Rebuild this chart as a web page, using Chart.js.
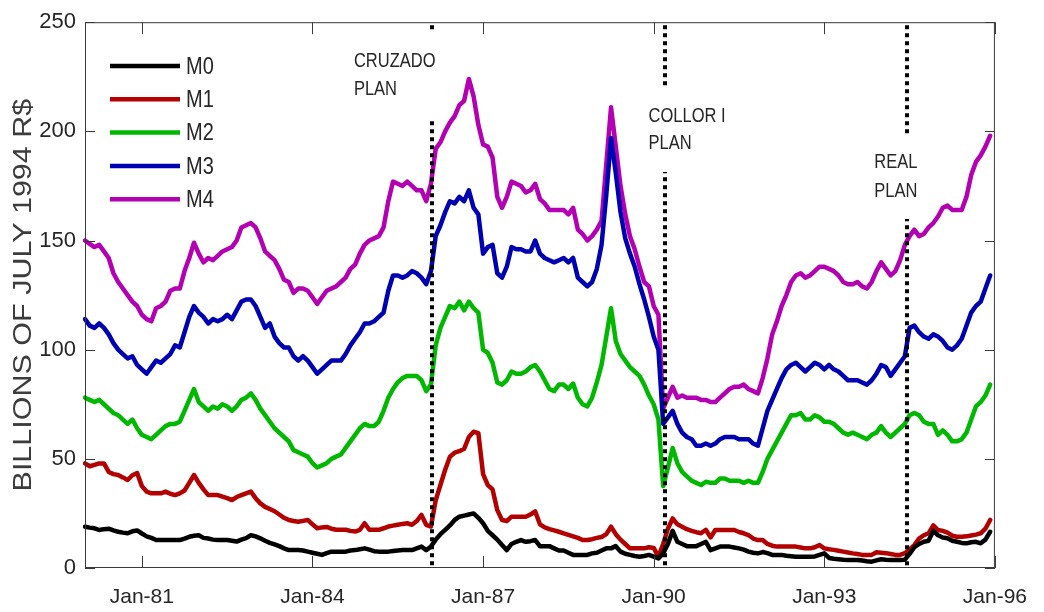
<!DOCTYPE html>
<html>
<head>
<meta charset="utf-8">
<script src="https://cdn.jsdelivr.net/npm/chart.js@4"></script>
<style>
  html, body { margin: 0; padding: 0; background: #fff; }
  #wrap { width: 1044px; height: 612px; position: relative; }
</style>
</head>
<body>
<div id="wrap"><canvas id="c" width="1044" height="612"></canvas></div>
<script>
// ---------- data ----------
const monthNames = ['Jan','Feb','Mar','Apr','May','Jun','Jul','Aug','Sep','Oct','Nov','Dec'];
const categories = [];
for (let yr = 1980; yr <= 1996; yr++) {
  for (let mo = 0; mo < 12; mo++) {
    if (yr === 1996 && mo > 0) break;
    categories.push(monthNames[mo] + '-' + String(yr).slice(2));
  }
}
const xTickLabels = ['Jan-81', 'Jan-84', 'Jan-87', 'Jan-90', 'Jan-93', 'Jan-96'];
const yTickValues = [0, 50, 100, 150, 200, 250];
const seriesNames = ['M0', 'M1', 'M2', 'M3', 'M4'];

const m0 = [
  18.9, 18.5, 18.2, 17.4, 17.8, 18, 17.2, 16.6, 16.2, 15.9, 16.8, 17.2,
  15.8, 14.5, 13.8, 12.8, 12.8, 12.8, 12.8, 12.8, 12.8, 13.5, 14.3, 14.8,
  15, 13.8, 13.5, 13, 12.8, 12.8, 12.8, 12.5, 12.1, 13, 13.7, 15,
  14.5, 13.6, 12.5, 11.5, 10.8, 10, 9, 8.2, 8.2, 8.2, 8, 7.5,
  7, 6.5, 6, 6.8, 7.5, 7.5, 7.5, 7.5, 8, 8.2, 8.6, 9,
  8.4, 7.7, 7.5, 7.5, 7.5, 7.8, 8, 8.2, 8.2, 8.2, 9, 9.8,
  8.2, 9.8, 13, 15.5, 17.5, 19.5, 22, 23.5, 24, 24.5, 25, 23,
  20.5, 17, 15, 13, 10.5, 8.2, 11, 12, 12.8, 12, 12.3, 12.8,
  10, 10, 10, 9, 8, 8, 7, 6, 6, 6, 6, 6.7,
  7, 8, 9, 9, 10, 7.5, 6.5, 6, 5.5, 5.2, 5.5, 6,
  5.2, 4.4, 6.7, 11, 17, 12, 11, 10, 10, 10, 11, 12,
  8.2, 9, 9.8, 9.8, 9.8, 9.4, 9, 8.4, 7.5, 7, 6.7, 7.3,
  6.8, 6, 6, 6, 5.6, 5.4, 5.2, 5.2, 5.2, 5.2, 5.3, 6,
  6.7, 4.6, 4.2, 4, 3.8, 3.7, 3.7, 3.7, 3.4, 3.1, 2.9, 3.5,
  4, 3.8, 3.7, 3.7, 3.7, 3.8, 6.5, 9.5, 11, 12, 12.5, 17,
  15, 14, 13.6, 12.5, 12, 11.5, 11.3, 11.8, 12, 11.3, 13, 16.6
];
const m1 = [
  47.9, 46.6, 47.2, 47.9, 47.9, 44, 43, 42.6, 41.5, 40.3, 42.5, 43.5,
  37.5, 35, 34.2, 34.2, 34.2, 35, 34, 33.4, 34.2, 35.5, 39, 42.6,
  39, 36, 33.4, 33.4, 33.4, 32.7, 32, 31.1, 32.5, 33.4, 34.2, 35,
  32, 29.6, 28, 27, 26, 24.5, 23, 22, 21.5, 21.2, 21.6, 22,
  20, 18.2, 18.6, 18.8, 18, 17.5, 17.5, 17.5, 17, 16.7, 17.5, 20.5,
  17.5, 17.5, 17.5, 18.2, 19, 19.4, 19.8, 20.2, 20.5, 19.8, 21.5, 24.3,
  19.8, 19, 31, 38, 45, 51, 52.8, 53.5, 54.6, 60, 62.4, 61.8,
  43, 38, 36, 26.5, 22, 21.5, 23.5, 23.5, 23.5, 23.5, 24.5, 25.9,
  20, 18.6, 17.8, 17.2, 16.6, 15.9, 15.2, 14.5, 13.8, 12.8, 12.8, 13.2,
  13.8, 14.2, 15.5, 18.9, 15.5, 13, 11, 9, 9, 9, 9, 9.5,
  9.2, 5.2, 11, 18, 22.7, 20, 18.9, 17.8, 17, 16.4, 15.9, 17.5,
  14, 17.4, 17.4, 17.4, 17.4, 17.4, 16.5, 15.9, 15.1, 13.5, 12.8, 12.8,
  11, 10.2, 9.8, 9.8, 9.8, 9.8, 9.8, 9.4, 9, 9, 9.5, 10.5,
  9, 8.6, 8.3, 7.9, 7.5, 7.1, 6.7, 6.4, 6, 6, 6, 7.2,
  7, 6.8, 6.4, 6, 6, 6.8, 8.5, 10.5, 13.5, 15, 15.9, 19.5,
  17.4, 17, 16.2, 14.8, 14.3, 14.3, 14.5, 14.9, 15.3, 15.9, 18, 22
];
const m2 = [
  78, 77, 76, 77, 75, 73, 71, 70, 68, 66, 68, 64,
  61, 60, 59, 61, 63, 65, 66, 66, 67, 72, 77, 82,
  76, 74, 72, 74, 73, 75, 74, 72, 74, 77, 78, 80,
  77, 73, 70, 67, 64, 62, 60, 58, 54, 53, 52, 51,
  48, 46, 47, 48, 50, 51, 52, 55, 58, 61, 64, 66,
  65, 65, 67, 72, 78, 82, 85, 87, 88, 88, 88, 86,
  81, 84, 102, 110, 115, 120, 119, 122, 118, 122, 119, 117,
  100, 98.5, 94, 85, 84, 86, 90, 89, 89, 90, 92, 93,
  90, 86, 82, 81, 84, 84, 82, 84.5, 78, 75, 74, 78,
  85, 93, 106, 119, 104, 98, 95, 92, 90, 88, 84, 79,
  75, 68, 37.5, 46, 55, 48, 44, 42, 40, 39, 38, 39.5,
  39, 39, 41, 41, 40, 40, 40, 39, 40, 39, 39, 44,
  50, 54, 58, 62, 66, 70, 70, 71, 68, 68, 70, 69,
  67, 67, 66, 64, 62, 61, 62, 61, 60, 59, 61, 62,
  65, 62, 60, 62, 64, 66, 70, 71, 70, 67, 66, 66,
  61, 63, 61, 58, 58, 59, 62, 68, 74, 76, 79, 84
];
const m3 = [
  114, 111, 110, 112, 110, 107, 103, 100, 98, 96, 97, 93,
  91, 89, 92, 95, 94, 96, 98, 102, 101, 108, 115, 120,
  117, 115, 112, 114, 113, 114, 116, 114, 118, 122, 123, 123,
  120, 115, 110, 112, 106, 103, 101, 101, 97, 95, 97, 95,
  92, 89, 91, 93, 95, 95, 95, 98, 102, 105, 108, 112,
  112, 113, 115, 117, 127, 134, 134, 133, 134, 136, 135, 133,
  130, 136, 152, 157, 163, 168, 167, 170, 168, 173, 165, 162,
  144, 147, 148, 135, 133, 138, 147, 146, 146, 145, 145, 150,
  144, 142, 141, 140, 141, 142, 140, 142, 133, 131, 129, 131,
  137, 148, 171, 197, 181, 163, 151, 144, 138, 130, 123, 115,
  106, 100, 66, 69, 72, 66, 62, 60, 59, 56, 56, 57,
  56, 57, 59, 60, 60, 60, 59, 59, 59, 57, 56, 64,
  72, 77, 82, 87, 91, 93, 94, 92, 90, 92, 94, 93,
  91, 93, 91, 90, 88, 86, 86, 86, 85, 84, 86, 89,
  93, 92, 88, 91, 94, 97, 110, 111, 108, 106, 105, 107,
  106, 104, 101, 100, 102, 105, 111, 117, 120, 122, 128, 134
];
const m4 = [
  150, 148.5, 147, 148, 145, 142, 135, 131, 128, 125, 122, 120,
  116, 114, 113, 119, 120, 122, 127, 128, 128, 136, 142, 149,
  144, 140, 142, 141, 143, 145, 146, 147, 150, 156, 157, 158,
  156, 151, 145, 143, 141, 137, 132, 131, 126, 128, 128, 127,
  124, 121, 124, 127, 128, 129, 131, 133, 137, 139, 144, 148,
  150, 151, 152, 156, 168, 177, 176, 175, 177, 175, 173, 173,
  168, 176, 192, 195, 200, 204, 207, 212, 214, 224, 216, 203,
  194, 193, 188, 170, 165, 170, 177, 176, 175, 172, 173, 176,
  169, 167, 164, 164, 164, 164, 162, 165, 155, 153, 150, 152,
  155, 159, 185, 211, 193, 175, 162, 152, 146, 138, 131, 129,
  120, 116, 73, 78, 83, 78, 79, 78, 78, 78, 77, 77,
  76, 76, 78, 80, 82, 83, 83, 84, 82, 81, 80, 87,
  96, 107, 113, 120, 125, 131, 134, 135, 133, 134, 136, 138,
  138, 137, 136, 134, 131, 130, 130, 131, 129, 128, 131, 136,
  140, 137, 134, 136, 141, 148, 152, 155, 152, 153, 156, 158,
  161, 165, 166, 164, 164, 164, 170, 180, 186, 189, 193, 198
];

// economic plans (position in months since Jan-80) and their labels
const planNames = [['CRUZADO', 'PLAN'], ['COLLOR I', 'PLAN'], ['REAL', 'PLAN']];
const planMonths = [73.2, 122.3, 173.5];

// ---------- styles ----------
const colors = ['#000000', '#b30000', '#00b800', '#0000b3', '#b300b3'];
const textColor = '#262626';
const frameColor = '#3a3a3a';
const FONT = '"Liberation Sans", Arial, Helvetica, sans-serif';
// label box placement relative to each plan line
const planLabelStyle = [
  { dx: -78, y1: 62, y2: 90, top: 31, bottom: 119, boxLeft: -84, boxRight: 8 },
  { dx: -16, y1: 117, y2: 144, top: 88, bottom: 172, boxLeft: -22, boxRight: 95 },
  { dx: -33, y1: 163, y2: 192, top: 137, bottom: 219, boxLeft: -40, boxRight: 20 }
];

const seriesData = [m0, m1, m2, m3, m4];

function stretchedText(ctx, txt, x, y, sy) {
  ctx.save();
  ctx.translate(x, y);
  ctx.scale(1, sy);
  ctx.fillText(txt, 0, 0);
  ctx.restore();
}

const decor = {
  id: 'decor',
  afterDatasetsDraw(chart) {
    const { ctx, chartArea: a, scales: { x, y } } = chart;

    // dotted plan lines
    ctx.save();
    ctx.beginPath();
    ctx.rect(a.left, a.top, a.right - a.left, a.bottom - a.top);
    ctx.clip();
    ctx.strokeStyle = '#000';
    ctx.lineWidth = 4;
    ctx.setLineDash([4, 4]);
    ctx.lineCap = 'butt';
    planMonths.forEach(m => {
      const px = Math.round(x.getPixelForValue(m));
      ctx.beginPath();
      ctx.moveTo(px, a.top + 3);
      ctx.lineTo(px, a.bottom);
      ctx.stroke();
    });
    ctx.restore();

    // plan labels with white boxes
    ctx.save();
    ctx.font = '16.5px ' + FONT;
    ctx.textAlign = 'left';
    ctx.textBaseline = 'middle';
    planMonths.forEach((m, i) => {
      const px = x.getPixelForValue(m);
      const s = planLabelStyle[i];
      ctx.fillStyle = '#fff';
      ctx.fillRect(px + s.boxLeft, s.top, s.boxRight - s.boxLeft, s.bottom - s.top);
      ctx.fillStyle = textColor;
      stretchedText(ctx, planNames[i][0], px + s.dx, s.y1, 1.2);
      stretchedText(ctx, planNames[i][1], px + s.dx, s.y2, 1.2);
    });
    ctx.restore();

    // legend
    ctx.save();
    chart.data.datasets.forEach((ds, i) => {
      const yy = 66 + i * 33.3;
      ctx.strokeStyle = ds.borderColor;
      ctx.lineWidth = 4.5;
      ctx.beginPath();
      ctx.moveTo(110, yy);
      ctx.lineTo(180, yy);
      ctx.stroke();
      ctx.fillStyle = textColor;
      ctx.font = '20px ' + FONT;
      ctx.textAlign = 'left';
      ctx.textBaseline = 'middle';
      stretchedText(ctx, ds.label, 186, yy + 1, 1.2);
    });
    ctx.restore();

    // frame + inward ticks
    ctx.save();
    ctx.strokeStyle = frameColor;
    ctx.lineWidth = 1;
    ctx.strokeRect(a.left + 0.5, a.top + 0.5, a.right - a.left - 1, a.bottom - a.top - 1);
    ctx.beginPath();
    xTickLabels.forEach(lbl => {
      const px = Math.round(x.getPixelForValue(categories.indexOf(lbl))) + 0.5;
      ctx.moveTo(px, a.bottom); ctx.lineTo(px, a.bottom - 12);
      ctx.moveTo(px, a.top); ctx.lineTo(px, a.top + 12);
    });
    yTickValues.forEach(v => {
      const py = Math.round(y.getPixelForValue(v)) + 0.5;
      ctx.moveTo(a.left, py); ctx.lineTo(a.left + 10, py);
      ctx.moveTo(a.right, py); ctx.lineTo(a.right - 10, py);
    });
    ctx.stroke();
    ctx.restore();

    // y-axis title
    ctx.save();
    ctx.fillStyle = '#3c3c3c';
    ctx.font = '25px ' + FONT;
    ctx.textAlign = 'center';
    ctx.textBaseline = 'middle';
    ctx.translate(24, (a.top + a.bottom) / 2);
    ctx.rotate(-Math.PI / 2);
    ctx.scale(1.22, 1);
    ctx.fillText('BILLIONS OF JULY 1994 R$', 0, 0);
    ctx.restore();
  }
};

new Chart(document.getElementById('c'), {
  type: 'line',
  data: {
    labels: categories,
    datasets: seriesNames.map((name, i) => ({
      label: name,
      data: seriesData[i],
      borderColor: colors[i],
      backgroundColor: colors[i],
      borderWidth: 4.5,
      pointRadius: 0,
      tension: 0,
      fill: false,
      borderJoinStyle: 'round',
      borderCapStyle: 'round'
    }))
  },
  options: {
    responsive: false,
    animation: false,
    devicePixelRatio: 1,
    layout: { padding: { top: 22, right: 37, left: 0, bottom: 0 } },
    plugins: { legend: { display: false }, tooltip: { enabled: false } },
    scales: {
      x: {
        type: 'category',
        grid: { display: false, drawTicks: false },
        border: { display: false },
        afterFit(scale) { scale.height = 44; },
        ticks: {
          autoSkip: false,
          maxRotation: 0,
          minRotation: 0,
          padding: 17,
          color: textColor,
          font: { family: FONT, size: 21 },
          callback(value, index) {
            const lbl = categories[index];
            return xTickLabels.includes(lbl) ? lbl : null;
          }
        }
      },
      y: {
        min: 0,
        max: 250,
        grid: { display: false, drawTicks: false },
        border: { display: false },
        afterFit(scale) { scale.width = 85; },
        afterBuildTicks(scale) { scale.ticks = yTickValues.map(v => ({ value: v })); },
        ticks: {
          padding: 9,
          color: textColor,
          font: { family: FONT, size: 22 }
        }
      }
    }
  },
  plugins: [decor]
});
</script>
</body>
</html>
